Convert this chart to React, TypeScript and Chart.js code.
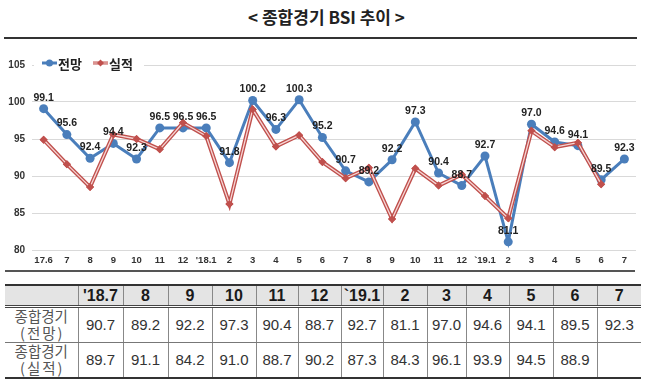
import React, { useEffect, useRef } from "react";
import { Chart, registerables } from "chart.js";

Chart.register(...registerables);

const title = "< 종합경기 BSI 추이 >";
const labels = ["17.6", "7", "8", "9", "10", "11", "12", "'18.1", "2", "3", "4", "5", "6", "7", "8", "9", "10", "11", "12", "`19.1", "2", "3", "4", "5", "6", "7"];
const forecast = [99.1, 95.6, 92.4, 94.4, 92.3, 96.5, 96.5, 96.5, 91.8, 100.2, 96.3, 100.3, 95.2, 90.7, 89.2, 92.2, 97.3, 90.4, 88.7, 92.7, 81.1, 97.0, 94.6, 94.1, 89.5, 92.3];
const actual: (number | null)[] = [94.9, 91.6, 88.5, 95.6, 95.0, 93.6, 97.2, 95.4, 86.2, 99.0, 94.0, 95.5, 91.9, 89.7, 91.1, 84.2, 91.0, 88.7, 90.2, 87.3, 84.3, 96.1, 93.9, 94.5, 88.9, null];
const seriesNames = ["전망", "실적"];
const yMin = 80;
const yMax = 105;
const yStep = 5;
const tableMonths = ["'18.7", "8", "9", "10", "11", "12", "`19.1", "2", "3", "4", "5", "6", "7"];
const tableStart = 13;
const rowHeadTop = "종합경기";
const rowHeadBottoms = ["(전망)", "(실적)"];

const BLUE = "#4a7ebb";
const RED = "#c0504d";
const colWidths = [73, 45, 45, 44, 44, 42, 43, 42, 44, 39, 43, 44, 44, 44];

const redInnerLine = {
  id: "redInnerLine",
  afterDatasetDraw(chart: any, args: any) {
    if (args.index !== 1) return;
    const meta = chart.getDatasetMeta(1);
    const ctx = chart.ctx;
    const pts = meta.data.filter((p: any) => !p.skip && p.y != null && !isNaN(p.y));
    ctx.save();
    ctx.strokeStyle = "#f6d6d5";
    ctx.lineWidth = 1.3;
    ctx.lineJoin = "round";
    ctx.beginPath();
    pts.forEach((p: any, i: number) => (i === 0 ? ctx.moveTo(p.x, p.y) : ctx.lineTo(p.x, p.y)));
    ctx.stroke();
    ctx.restore();
    pts.forEach((p: any) => p.draw(ctx, chart.chartArea));
  },
};

const valueLabels = {
  id: "valueLabels",
  afterDatasetsDraw(chart: any) {
    const meta = chart.getDatasetMeta(0);
    const ctx = chart.ctx;
    ctx.save();
    ctx.font = "bold 10.5px 'Liberation Sans', Arial, sans-serif";
    ctx.fillStyle = "#222";
    ctx.textAlign = "center";
    ctx.textBaseline = "middle";
    meta.data.forEach((p: any, i: number) => {
      ctx.fillText(forecast[i].toFixed(1), p.x, p.y - 11);
    });
    ctx.restore();
  },
};

const customLegend = {
  id: "customLegend",
  afterDraw(chart: any) {
    const ctx = chart.ctx;
    const { left, top } = chart.chartArea;
    const cy = top - 2;
    ctx.save();
    ctx.fillStyle = "#fff";
    ctx.fillRect(left + 2, cy - 8, 110, 16);
    ctx.font = "bold 13px 'Noto Sans CJK KR', sans-serif";
    ctx.textBaseline = "middle";
    ctx.textAlign = "left";
    let x = left + 10;
    ctx.strokeStyle = BLUE;
    ctx.lineWidth = 3;
    ctx.beginPath();
    ctx.moveTo(x, cy);
    ctx.lineTo(x + 15, cy);
    ctx.stroke();
    ctx.fillStyle = BLUE;
    ctx.beginPath();
    ctx.arc(x + 7.5, cy, 3.5, 0, Math.PI * 2);
    ctx.fill();
    ctx.fillStyle = "#222";
    ctx.fillText(seriesNames[0], x + 16, cy + 1);
    x = left + 61;
    ctx.strokeStyle = RED;
    ctx.lineWidth = 3;
    ctx.beginPath();
    ctx.moveTo(x, cy);
    ctx.lineTo(x + 15, cy);
    ctx.stroke();
    ctx.strokeStyle = "#f6d6d5";
    ctx.lineWidth = 1;
    ctx.beginPath();
    ctx.moveTo(x, cy);
    ctx.lineTo(x + 15, cy);
    ctx.stroke();
    ctx.fillStyle = RED;
    ctx.beginPath();
    ctx.moveTo(x + 7.5, cy - 3.5);
    ctx.lineTo(x + 11, cy);
    ctx.lineTo(x + 7.5, cy + 3.5);
    ctx.lineTo(x + 4, cy);
    ctx.closePath();
    ctx.fill();
    ctx.fillStyle = "#222";
    ctx.fillText(seriesNames[1], x + 16, cy + 1);
    ctx.restore();
  },
};

function LineChart() {
  const ref = useRef<HTMLCanvasElement | null>(null);
  useEffect(() => {
    if (!ref.current) return;
    const chart = new Chart(ref.current, {
      type: "line",
      data: {
        labels,
        datasets: [
          {
            label: seriesNames[0],
            data: forecast,
            borderColor: BLUE,
            backgroundColor: BLUE,
            borderWidth: 3,
            pointStyle: "circle",
            pointRadius: 4.5,
            pointBackgroundColor: BLUE,
            pointBorderColor: BLUE,
            pointBorderWidth: 0,
            tension: 0,
            order: 1,
          },
          {
            label: seriesNames[1],
            data: actual,
            borderColor: RED,
            backgroundColor: RED,
            borderWidth: 4,
            pointStyle: "rectRot",
            pointRadius: 4,
            pointBackgroundColor: RED,
            pointBorderColor: RED,
            pointBorderWidth: 0,
            tension: 0,
            spanGaps: false,
            order: 0,
          },
        ],
      },
      options: {
        responsive: false,
        animation: false,
        layout: { padding: { top: 25, right: 17, left: 0, bottom: 0 } },
        plugins: {
          legend: { display: false },
          tooltip: { enabled: false },
          title: { display: false },
        },
        scales: {
          x: {
            offset: true,
            grid: { display: false, drawTicks: false },
            border: { display: false },
            ticks: {
              color: "#333",
              font: { family: "'Liberation Sans', Arial, sans-serif", size: 9.5, weight: "bold" },
              padding: 5,
              maxRotation: 0,
              autoSkip: false,
            },
            afterFit: (s: any) => {
              s.height = 20;
            },
          },
          y: {
            min: yMin,
            max: yMax,
            grid: { color: "#d9d9d9", lineWidth: 1, drawTicks: false },
            border: { display: false },
            ticks: {
              stepSize: yStep,
              color: "#333",
              font: { family: "'Liberation Sans', Arial, sans-serif", size: 10, weight: "bold" },
              padding: 7,
            },
            afterFit: (s: any) => {
              s.width = 32;
            },
          },
        },
      },
      plugins: [redInnerLine, valueLabels, customLegend],
    });
    return () => chart.destroy();
  }, []);
  return <canvas ref={ref} width={653} height={230} style={{ display: "block", width: 653, height: 230 }} />;
}

function DataTable() {
  const cellBase: React.CSSProperties = {
    padding: 0,
    textAlign: "center",
    verticalAlign: "middle",
    overflow: "hidden",
    whiteSpace: "nowrap",
  };
  const vline = (i: number) => (i > 0 ? { borderLeft: "1px solid #888" } : {});
  const headCells = ["", ...tableMonths];
  const rows = [forecast.slice(tableStart), actual.slice(tableStart)];
  return (
    <table
      style={{
        position: "absolute",
        left: 5,
        top: 284,
        width: 636,
        borderCollapse: "collapse",
        tableLayout: "fixed",
      }}
    >
      <colgroup>
        {colWidths.map((w, i) => (
          <col key={i} style={{ width: w }} />
        ))}
      </colgroup>
      <tbody>
        <tr style={{ height: 21 }}>
          {headCells.map((t, i) => (
            <td
              key={i}
              style={{
                ...cellBase,
                ...vline(i),
                background: "#e4e4e4",
                borderTop: "2px solid #333",
                borderBottom: "3px double #444",
                font: "bold 16px 'Liberation Sans', Arial, sans-serif",
                color: "#1a1a1a",
                lineHeight: "17px",
              }}
            >
              {t}
            </td>
          ))}
        </tr>
        {rows.map((vals, r) => (
          <tr key={r} style={{ height: 36 }}>
            <td
              style={{
                ...cellBase,
                borderBottom: r === 0 ? "1px solid #777" : "2px solid #333",
                font: "14.5px 'Noto Sans CJK KR', sans-serif",
                color: "#555",
                lineHeight: "16.5px",
              }}
            >
              <div>{rowHeadTop}</div>
              <div style={{ letterSpacing: 2, paddingLeft: 2 }}>{rowHeadBottoms[r]}</div>
            </td>
            {vals.map((v, i) => (
              <td
                key={i}
                style={{
                  ...cellBase,
                  ...vline(i + 1),
                  borderBottom: r === 0 ? "1px solid #777" : "2px solid #333",
                  font: "15px 'Liberation Sans', Arial, sans-serif",
                  color: "#333",
                }}
              >
                {v == null ? "" : v.toFixed(1)}
              </td>
            ))}
          </tr>
        ))}
      </tbody>
    </table>
  );
}

export default function App() {
  return (
    <div
      style={{
        position: "absolute",
        left: 0,
        top: 0,
        width: 653,
        height: 388,
        background: "#fff",
        overflow: "hidden",
      }}
    >
      <div
        style={{
          position: "absolute",
          left: 0,
          top: 6,
          width: 653,
          textAlign: "center",
          font: "bold 17px 'Noto Sans CJK KR', sans-serif",
          color: "#222",
          lineHeight: "22px",
        }}
      >
        {title}
      </div>
      <div style={{ position: "absolute", left: 4, top: 37, width: 633, height: 2, background: "#333" }} />
      <div style={{ position: "absolute", left: 0, top: 40, width: 653, height: 230 }}>
        <LineChart />
      </div>
      <div style={{ position: "absolute", left: 5, top: 270, width: 630, height: 2, background: "#555" }} />
      <DataTable />
    </div>
  );
}
